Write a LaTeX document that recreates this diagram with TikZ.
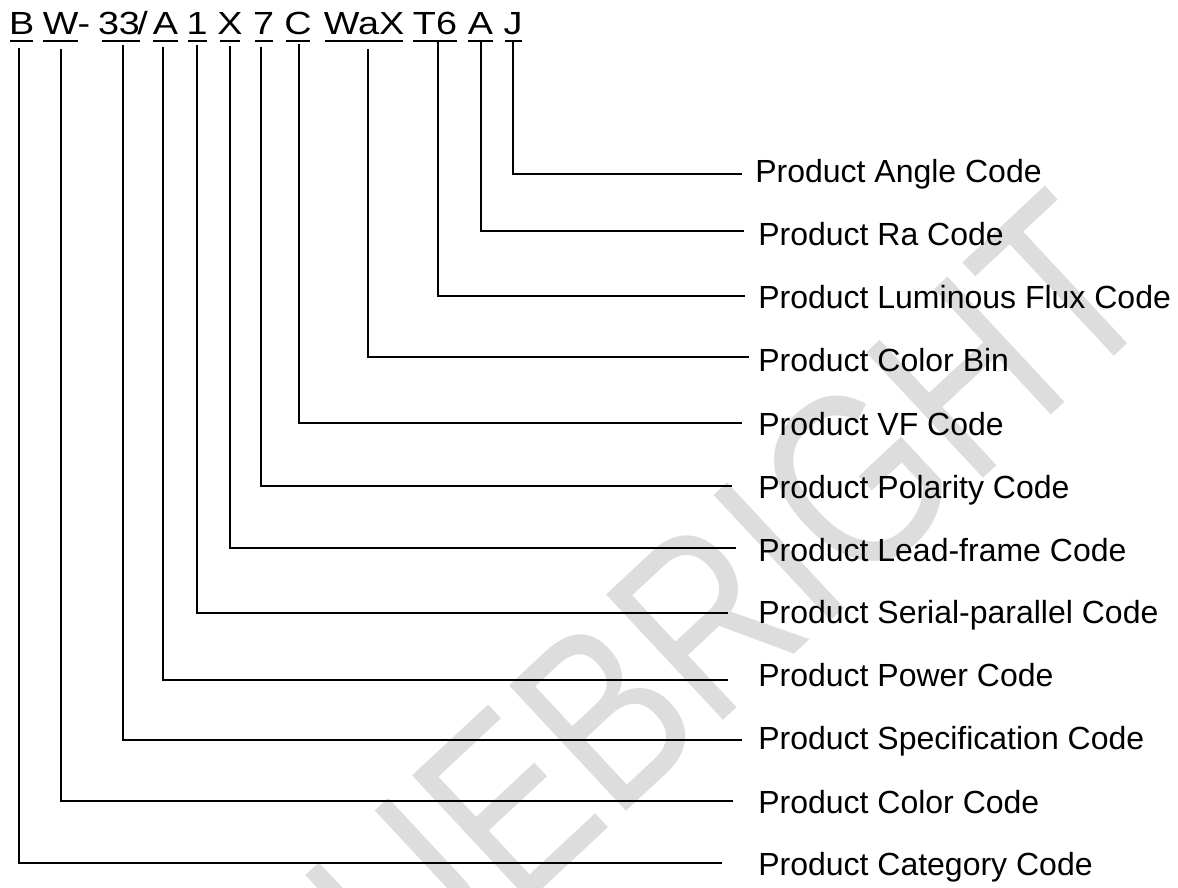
\documentclass[tikz,border=0pt]{standalone}
\usepackage{fontspec}
\setmainfont{Liberation Sans}
\newfontfamily\widefont[FakeStretch=1.18]{Liberation Sans}
\newfontfamily\narrowfont[FakeStretch=0.8]{Liberation Sans}
\definecolor{wmgray}{HTML}{DDDDDD}
\tikzset{
  codetext/.style={font=\widefont\fontsize{24}{29}\selectfont, inner sep=0pt, anchor=base},
  labeltext/.style={font=\fontsize{24}{29}\selectfont, inner sep=0pt, anchor=base west},
  conn/.style={line width=1.5pt, line cap=rect},
  uline/.style={line width=1.5pt},
  wmark/.style={font=\narrowfont\fontsize{187}{190}\selectfont, text=wmgray, rotate=43, inner sep=0pt}
}
\begin{document}
\begin{tikzpicture}[x=0.75pt,y=-0.75pt]
\useasboundingbox (0,0) rectangle (1178,888);
% watermark
\node[wmark] (wm) at (641,680) {BLUEBRIGHT};

% code segments
\node[codetext] (sB)   at (21.7,35)  {B};
\node[codetext] (sW)   at (60.8,35)  {W};
\node[codetext] (sDash) at (84,35)   {-};
\node[codetext] (s33)  at (119,35)   {33};
\node[codetext] (sSl)  at (142.5,35) {/};
\node[codetext] (sA)   at (165.5,35) {A};
\node[codetext] (s1)   at (197,35)   {1};
\node[codetext] (sX)   at (230,35)   {X};
\node[codetext] (s7)   at (263.5,35) {7};
\node[codetext] (sC)   at (298,35)   {C};
\node[codetext] (sWaX) at (364,35)   {WaX};
\node[codetext] (sT6)  at (435,35)   {T6};
\node[codetext] (sA2)  at (480.5,35) {A};
\node[codetext] (sJ)   at (513,35)   {J};

% underlines
\foreach \a/\b in {10/33.3, 43.3/78.3, 101.7/140, 153/178, 188/207, 220/240, 255/273, 286/310, 325/403, 413/457, 468/493, 505/522}
  \draw[uline] (\a,41) -- (\b,41);

% labels
\node[labeltext] (lAng)  at (755,183)   {Product Angle Code};
\node[labeltext] (lRa)   at (758,245.5) {Product Ra Code};
\node[labeltext] (lLum)  at (758,308)   {Product Luminous Flux Code};
\node[labeltext] (lBin)  at (758,371.5) {Product Color Bin};
\node[labeltext] (lVF)   at (758,435)   {Product VF Code};
\node[labeltext] (lPol)  at (758,498)   {Product Polarity Code};
\node[labeltext] (lLead) at (758,561)   {Product Lead-frame Code};
\node[labeltext] (lSer)  at (758,623.5) {Product Serial-parallel Code};
\node[labeltext] (lPow)  at (758,686)   {Product Power Code};
\node[labeltext] (lSpec) at (758,749)   {Product Specification Code};
\node[labeltext] (lCol)  at (758,813)   {Product Color Code};
\node[labeltext] (lCat)  at (758,875)   {Product Category Code};

% connector coordinates
\coordinate (tB)   at (18.5,49);   \coordinate (eB)   at (720.5,863);
\coordinate (tW)   at (60.5,50);   \coordinate (eW)   at (731.5,801);
\coordinate (t33)  at (122.5,46);  \coordinate (e33)  at (741,739.5);
\coordinate (tA)   at (163,48);    \coordinate (eA)   at (727,679.5);
\coordinate (t1)   at (196.5,46);  \coordinate (e1)   at (727,613);
\coordinate (tX)   at (229.5,47);  \coordinate (eX)   at (735,548);
\coordinate (t7)   at (261,48);    \coordinate (e7)   at (730.5,486);
\coordinate (tC)   at (299,45);    \coordinate (eC)   at (741,422.5);
\coordinate (tWaX) at (368,50);    \coordinate (eWaX) at (748,357);
\coordinate (tT6)  at (438,43);    \coordinate (eT6)  at (744,296);
\coordinate (tA2)  at (481,43);    \coordinate (eA2)  at (742.5,231);
\coordinate (tJ)   at (513,43);    \coordinate (eJ)   at (740.5,174);

\foreach \n in {B,W,33,A,1,X,7,C,WaX,T6,A2}
  \draw[conn] (t\n) |- (e\n);
\draw[conn, line width=2pt] (tJ) |- (eJ);
\end{tikzpicture}
\end{document}
